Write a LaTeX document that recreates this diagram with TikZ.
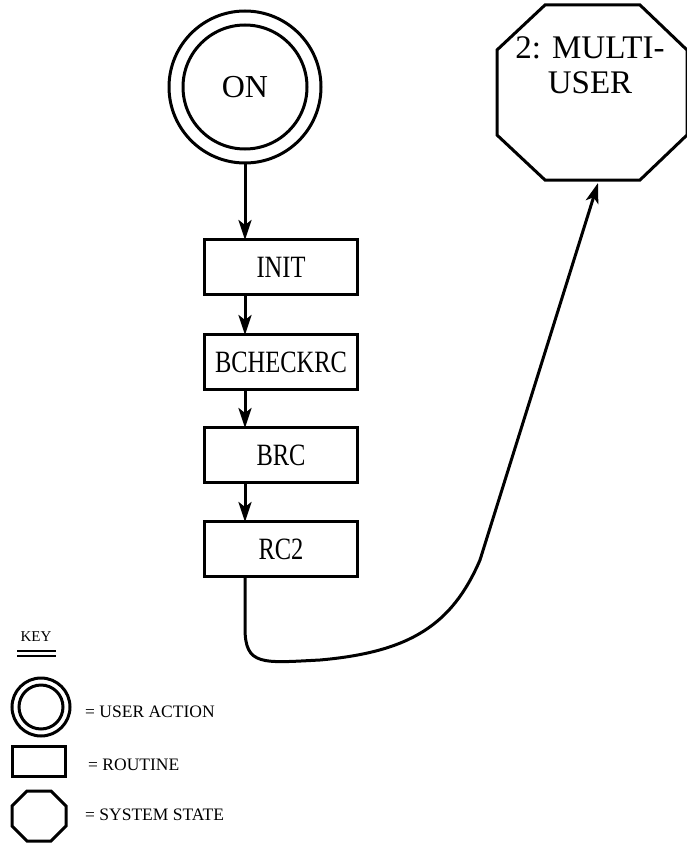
\documentclass[tikz,border=0pt]{standalone}
\usepackage{fontspec}
\setmainfont{Liberation Serif}
\newfontfamily\boxfont[FakeStretch=0.79]{Liberation Serif}
\usetikzlibrary{arrows.meta}
\tikzset{
  line/.style={line width=3pt},
  arr/.style={line width=3pt,-{Stealth[length=20pt,width=13pt,inset=5pt]}},
  routine/.style={draw,line width=3pt,minimum width=153pt,minimum height=55pt,inner sep=0pt,font=\boxfont\fontsize{31}{33}\selectfont},
  keylabel/.style={anchor=west,font=\fontsize{17.5}{19}\selectfont,inner sep=0pt},
}
\begin{document}
\begin{tikzpicture}[x=1pt,y=-1pt]
\useasboundingbox (0,0) rectangle (687,843);
% ON double circle
\node[circle,draw,line width=3pt,minimum size=124pt,inner sep=0pt,font=\fontsize{32}{34}\selectfont] (on) at (245,87) {ON};
\draw[line width=3pt] (on.center) circle[radius=76pt];
\coordinate (onb) at (245,164);
% routines
\node[routine] (init) at (281,267) {INIT};
\node[routine] (bchk) at (281,362) {BCHECKRC};
\node[routine] (brc) at (281,455) {BRC};
\node[routine] (rc2) at (281,549) {RC2};
% arrows
\coordinate (a1) at (245,240);
\draw[arr] (onb) -- (a1);
\draw[arr] (245,295) -- (245,335);
\draw[arr] (245,390) -- (245,428);
\draw[arr] (245,483) -- (245,522);
% octagon
\draw[line,line join=miter] (545,5) -- (640,5) -- (687,50) -- (687,135) -- (640,180) -- (545,180) -- (497,135) -- (497,50) -- cycle;
\node[font=\fontsize{33}{35}\selectfont,align=center] (mu) at (590,65) {2: MULTI-\\[0pt]USER};
% curved connector
\coordinate (c0) at (245,577);
\coordinate (c3) at (598,183);
\draw[arr] (c0) -- (245,628) .. controls (245,666) and (262,663) .. (320,660)
  .. controls (410,652) and (452,625) .. (480,560) -- (c3);
% key
\node[font=\fontsize{15}{17}\selectfont,inner sep=0pt] (key) at (36,637) {KEY};
\draw[line width=2pt] (17,651) -- (56,651);
\draw[line width=2pt] (17,656) -- (56,656);
\draw[line width=3pt] (41,707) circle[radius=29pt];
\draw[line width=3pt] (41,707) circle[radius=22pt];
\draw[line width=3pt] (12,746) rectangle (65,776);
\draw[line,line join=miter] (27,791) -- (51,791) -- (66,806) -- (66,826) -- (51,841) -- (27,841) -- (12,826) -- (12,806) -- cycle;
\node[keylabel] (k1) at (85,712) {= USER ACTION};
\node[keylabel] (k2) at (88,765) {= ROUTINE};
\node[keylabel] (k3) at (85,815) {= SYSTEM STATE};
\end{tikzpicture}
\end{document}
